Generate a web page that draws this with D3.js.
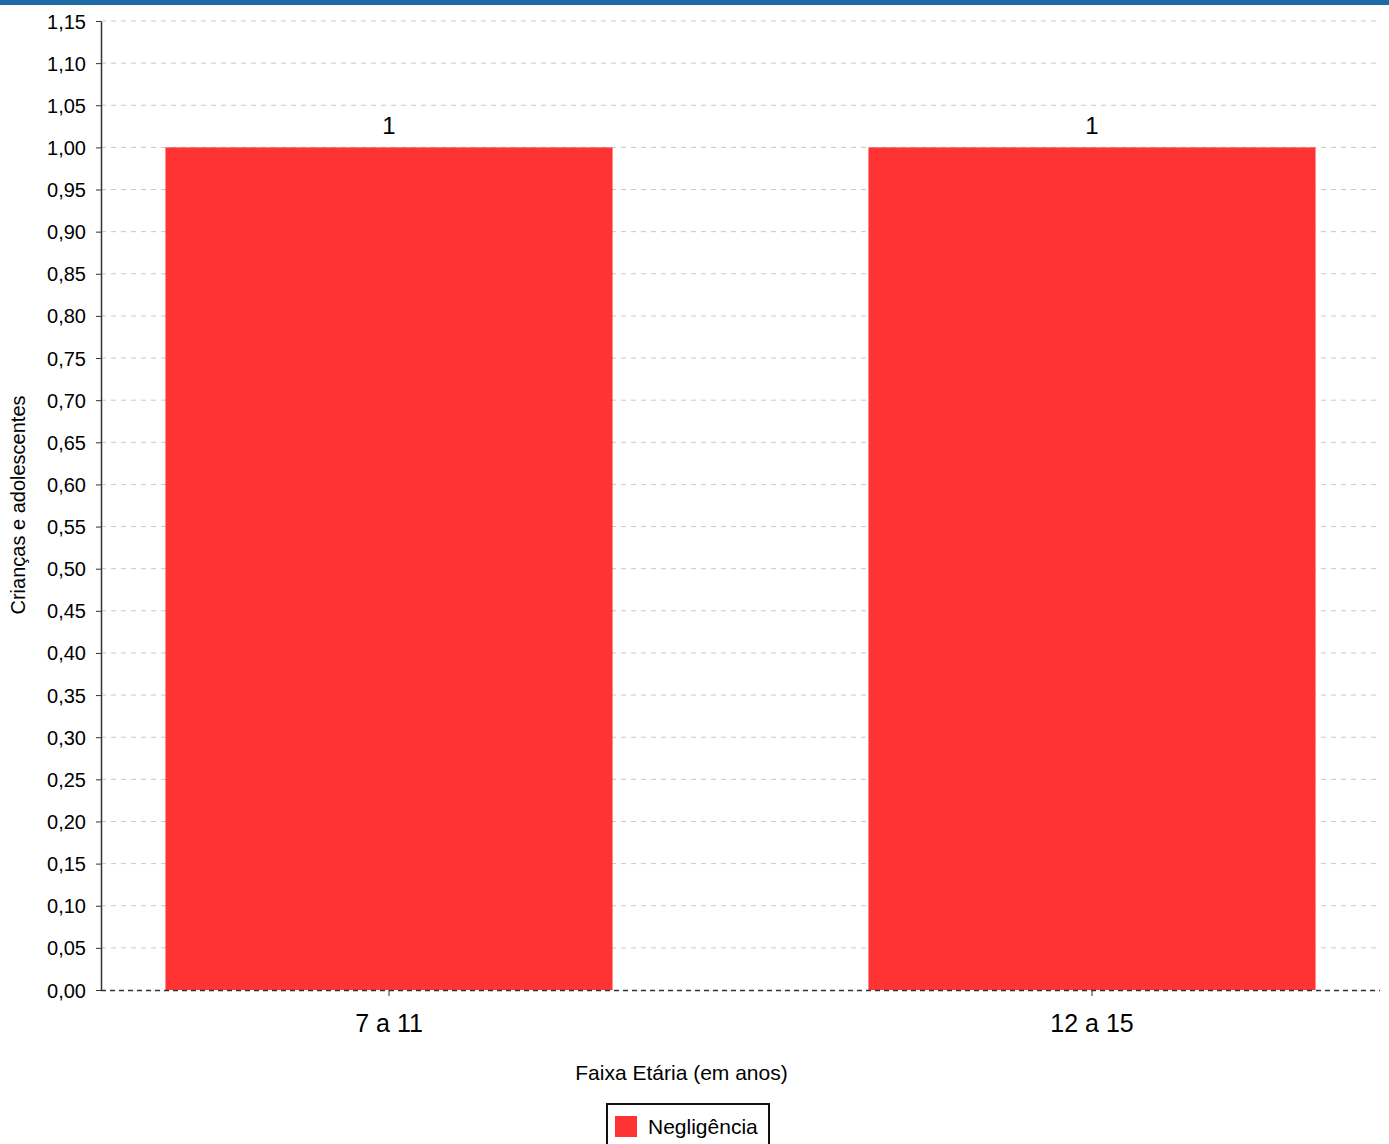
<!DOCTYPE html>
<html><head><meta charset="utf-8">
<script src="https://cdn.jsdelivr.net/npm/d3@7"></script>
<style>body{margin:0;background:#fff;}svg{display:block;font-family:"Liberation Sans",Arial,sans-serif;}</style>
</head><body>
<svg id="c" width="1389" height="1144"></svg>
<script>
const categories = ["7 a 11", "12 a 15"];
const values = [1, 1];
const seriesName = "Negligência";
const yTicks = d3.range(0, 24).map(i => +(i * 0.05).toFixed(2));
const yTitle = "Crianças e adolescentes";
const xTitle = "Faixa Etária (em anos)";

const FF = "Liberation Sans, Arial, sans-serif";
const svg = d3.select("#c");
const L = 101, R = 1380, T = 21, B = 990;
svg.append("rect").attr("x",0).attr("y",0).attr("width",1389).attr("height",5).attr("fill","#1c6aa6");

const x = d3.scaleBand().domain(categories).range([L, R]).paddingInner(0.364).paddingOuter(0.0917);
const y = d3.scaleLinear().domain([0, 1.15]).range([B, T]);

// grid
svg.append("g").selectAll("line").data(yTicks.filter(d => d > 0)).join("line")
  .attr("x1", L).attr("x2", R).attr("y1", d => y(d)).attr("y2", d => y(d))
  .attr("stroke", "#c8c8c8").attr("stroke-dasharray", "5,5").attr("stroke-width", 1);

// bars
svg.append("g").selectAll("rect").data(values).join("rect")
  .attr("x", (d,i) => x(categories[i])).attr("width", x.bandwidth())
  .attr("y", d => y(d)).attr("height", d => B - y(d)).attr("fill", "#ff3333");

// value labels
svg.append("g").selectAll("text").data(values).join("text")
  .attr("x", (d,i) => x(categories[i]) + x.bandwidth()/2).attr("y", d => y(d) - 13)
  .attr("text-anchor","middle").attr("font-size", 24).attr("fill","#000").text(d => d);

// baseline
svg.append("line").attr("x1", L).attr("x2", R).attr("y1", B + 0.5).attr("y2", B + 0.5)
  .attr("stroke", "#333").attr("stroke-dasharray", "5,4").attr("stroke-width", 1.5);

// y axis
const fmt = d => d.toFixed(2).replace(".", ",");
const ya = svg.append("g").attr("transform", `translate(${L},0)`)
  .call(d3.axisLeft(y).tickValues(yTicks).tickFormat(fmt).tickSize(5).tickPadding(10).tickSizeOuter(0));
ya.select(".domain").attr("stroke","#333").attr("stroke-width",1.5);
ya.selectAll(".tick line").attr("stroke","#333");
ya.selectAll("text").attr("font-size", 20).attr("fill","#000").attr("font-family",FF).attr("dy","0.35em");

// x axis ticks
const xa = svg.append("g").attr("transform", `translate(0,${B})`)
  .call(d3.axisBottom(x).tickSize(6).tickSizeOuter(0).tickPadding(18));
xa.select(".domain").remove();
xa.selectAll(".tick line").attr("stroke","#333");
xa.selectAll("text").attr("font-size", 25).attr("fill","#000").attr("font-family",FF);

// titles
svg.append("text").attr("x", 681.5).attr("y", 1080).attr("text-anchor","middle")
  .attr("font-size", 21).text(xTitle);
svg.append("text").attr("transform", "translate(25,505) rotate(-90)").attr("text-anchor","middle")
  .attr("font-size", 20).text(yTitle);

// legend
const lg = svg.append("g");
lg.append("rect").attr("x", 607).attr("y", 1104).attr("width", 162).attr("height", 50)
  .attr("fill","#fff").attr("stroke","#111").attr("stroke-width",2);
lg.append("rect").attr("x", 615).attr("y", 1116).attr("width", 22).attr("height", 21).attr("fill","#ff3333");
lg.append("text").attr("x", 648).attr("y", 1134).attr("font-size", 21).text(seriesName);
</script>
</body></html>
